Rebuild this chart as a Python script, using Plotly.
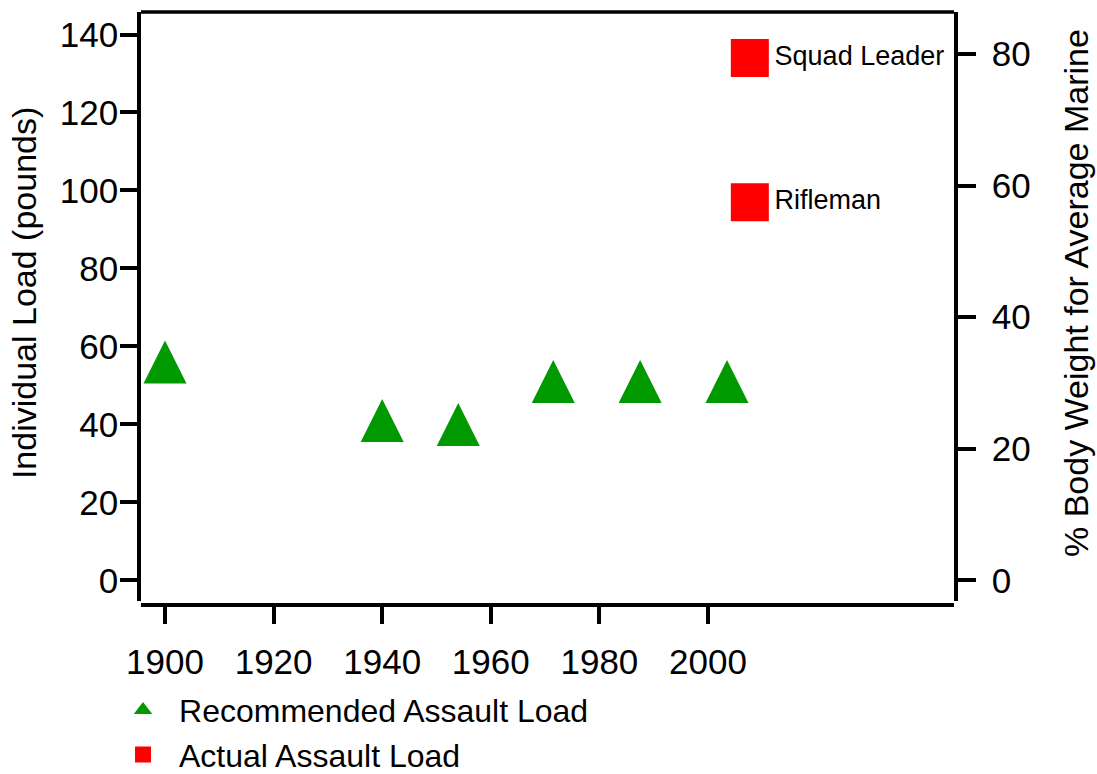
import plotly.graph_objects as go

# ---- data ----
rec_years = [1900, 1940, 1954, 1971.5, 1987.5, 2003.5]
rec_loads = [56, 41, 40, 51, 51, 51]

act_years = [2007.7, 2007.7]
act_loads = [134, 97]
act_labels = ["Squad Leader", "Rifleman"]

x_ticks = [1900, 1920, 1940, 1960, 1980, 2000]
y_ticks_left = [0, 20, 40, 60, 80, 100, 120, 140]
y_ticks_right = [0, 20, 40, 60, 80]

legend_names = ["Recommended Assault Load", "Actual Assault Load"]
y_title_left = "Individual Load (pounds)"
y_title_right = "% Body Weight for Average Marine"

GREEN = "#009900"
RED = "#ff0000"
FONT = "Liberation Sans, Arial, sans-serif"
LW = 3.5

fig = go.Figure()

tri_size = 43
fig.add_trace(go.Scatter(
    x=rec_years, y=rec_loads, mode="markers", showlegend=False,
    marker=dict(symbol="arrow-down", angle=180, standoff=tri_size / 2,
                size=tri_size, color=GREEN, line=dict(width=0)),
    name=legend_names[0],
))
fig.add_trace(go.Scatter(
    x=act_years, y=act_loads, mode="markers+text", showlegend=False,
    text=act_labels, textposition="middle right",
    textfont=dict(size=27, color="black", family=FONT),
    marker=dict(symbol="square", size=38, color=RED, line=dict(width=0)),
    name=legend_names[1],
))
# invisible trace to attach the right axis
fig.add_trace(go.Scatter(x=[None], y=[None], yaxis="y2", showlegend=False,
                         hoverinfo="skip"))
# legend entries
fig.add_trace(go.Scatter(x=[None], y=[None], mode="markers", name=legend_names[0],
                         marker=dict(symbol="triangle-up", size=16, color=GREEN)))
fig.add_trace(go.Scatter(x=[None], y=[None], mode="markers", name=legend_names[1],
                         marker=dict(symbol="square", size=16, color=RED)))

axis_common = dict(showline=True, linecolor="black", linewidth=LW,
                   ticks="outside", tickwidth=LW, tickcolor="black",
                   showgrid=False, zeroline=False, automargin=False,
                   tickfont=dict(size=35, color="black", family=FONT))

fig.update_layout(
    width=1097, height=774,
    paper_bgcolor="white", plot_bgcolor="white",
    margin=dict(l=141, r=143, t=12, b=169, autoexpand=False),
    font=dict(family=FONT, color="black"),
    xaxis=dict(range=[1895.58, 2045.3], tickvals=x_ticks, anchor="free", position=0,
               ticklen=17, ticklabelstandoff=8, **axis_common),
    yaxis=dict(range=[-5.26, 145.77], tickvals=y_ticks_left, domain=[0.007, 1],
               ticklen=17, ticklabelstandoff=-5, **axis_common),
    yaxis2=dict(range=[-3.12, 86.4], tickvals=y_ticks_right, overlaying="y", side="right",
                anchor="x", ticklen=18, ticklabelstandoff=9, **axis_common),
    legend=dict(x=-0.0418, y=-0.131, xanchor="left", yanchor="top",
                font=dict(size=32, color="black", family=FONT),
                bgcolor="rgba(0,0,0,0)", itemwidth=62),
    shapes=[dict(type="line", xref="x domain", yref="y domain", x0=0, x1=1, y0=1, y1=1,
                 line=dict(color="black", width=LW))],
    annotations=[
        dict(text=y_title_left, xref="paper", yref="paper", x=-0.1439, y=0.526,
             xanchor="center", yanchor="middle", textangle=-90, showarrow=False,
             font=dict(size=34, color="black", family=FONT)),
        dict(text=y_title_right, xref="paper", yref="paper", x=1.150, y=0.526,
             xanchor="center", yanchor="middle", textangle=-90, showarrow=False,
             font=dict(size=34, color="black", family=FONT)),
    ],
)

# remove the browser's default 8px body margin so the figure fills the window
fig.write_html("out.html", config={"displayModeBar": False},
               post_script="document.body.style.margin='0px';document.body.style.overflow='hidden';")
